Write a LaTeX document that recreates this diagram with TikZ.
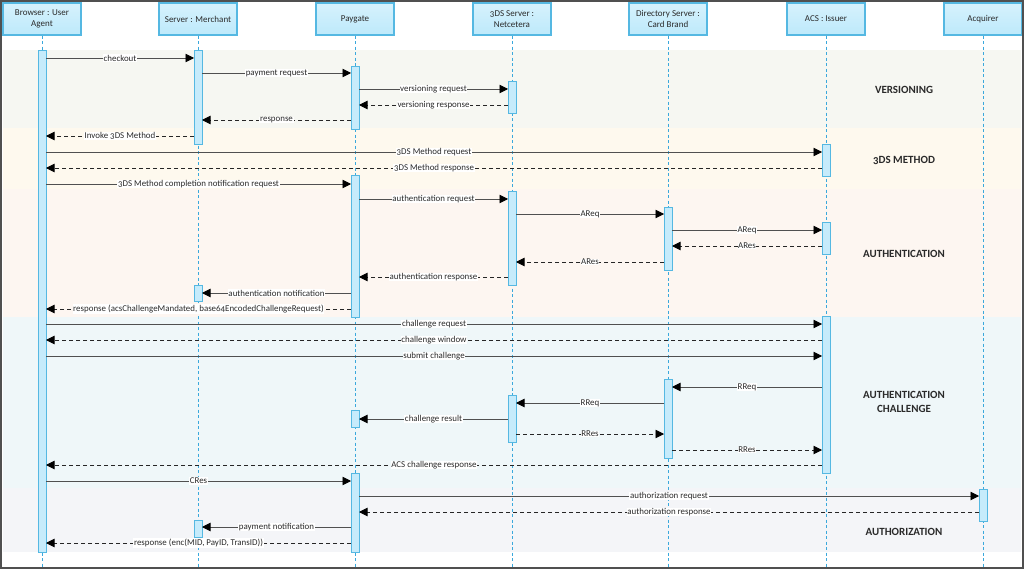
\documentclass[tikz,border=0pt]{standalone}
\usepackage{fontspec}
\setmainfont{Carlito}[Numbers=OldStyle]
\usetikzlibrary{arrows.meta}
\definecolor{bandV}{HTML}{F6F7F2}
\definecolor{bandM}{HTML}{FEF9EE}
\definecolor{bandA}{HTML}{FDF6F1}
\definecolor{bandC}{HTML}{EFF7F9}
\definecolor{bandZ}{HTML}{F4F5F8}
\definecolor{hdrtop}{HTML}{D6F2FD}
\definecolor{hdrbot}{HTML}{BDE9FB}
\definecolor{hdrline}{HTML}{55B8E2}
\definecolor{lifec}{HTML}{3AA8DC}
\definecolor{barfill}{HTML}{C6EBFB}
\definecolor{solidc}{HTML}{505050}
\definecolor{txt}{HTML}{2A2A2A}
\definecolor{framec}{HTML}{505050}
\tikzset{
  hdr/.style={draw=hdrline, top color=hdrtop, bottom color=hdrbot, line width=1.1pt, minimum width=78pt, minimum height=32pt,
    align=center, inner sep=1pt, text=txt, font=\fontsize{9}{10.5}\selectfont},
  life/.style={draw=lifec, line width=1pt, dash pattern=on 3pt off 2.5pt},
  actbar/.style={draw=hdrline, fill=barfill, line width=0.9pt},
  arrtip/.style={-{Triangle[length=8.5pt,width=8.5pt,color=black]}},
  req/.style={draw=solidc, line width=0.9pt, arrtip},
  rsp/.style={draw=black!85, line width=0.9pt, dash pattern=on 4pt off 3pt, arrtip},
  lbl/.style={fill=white, inner sep=0.6pt, text=txt, font=\fontsize{8.9}{9.5}\selectfont},
  sec/.style={text=txt, align=center, font=\fontsize{11}{13.5}\selectfont\bfseries}
}
\newcommand\msgr[5]{\draw[#1] ([xshift=4pt]#2.south |- 0,#4) -- node[lbl]{#5} ([xshift=-4pt]#3.south |- 0,#4);}
\newcommand\msgl[5]{\draw[#1] ([xshift=-4pt]#2.south |- 0,#4) -- node[lbl]{#5} ([xshift=4pt]#3.south |- 0,#4);}
\newcommand\actv[3]{\draw[actbar] ([xshift=-4pt]#1.south |- 0,#2) rectangle ([xshift=4pt]#1.south |- 0,#3);}
\begin{document}
\begin{tikzpicture}[x=1pt,y=-1pt]
\useasboundingbox (0,0) rectangle (1024,569);
% bands
\fill[bandV] (3,50) rectangle (1021,128);
\fill[bandM] (3,128) rectangle (1021,189);
\fill[bandA] (3,189) rectangle (1021,317);
\fill[bandC] (3,317) rectangle (1021,488);
\fill[bandZ] (3,488) rectangle (1021,552);
% headers
\node[hdr] (hB) at (42,19) {Browser : User\\Agent};
\node[hdr] (hM) at (198,19) {Server : Merchant};
\node[hdr] (hP) at (355,19) {Paygate};
\node[hdr] (hS) at (512,19) {3DS Server :\\Netcetera};
\node[hdr] (hD) at (668,19) {Directory Server :\\Card Brand};
\node[hdr] (hA) at (826,19) {ACS : Issuer};
\node[hdr] (hQ) at (983,19) {Acquirer};
% lifelines
\foreach \h in {hB,hM,hP,hS,hD,hA,hQ}{\draw[life] (\h.south) -- (\h.south |- 0,569);}
% section labels
\node[sec] (sV) at (904,90) {VERSIONING};
\node[sec] (sM) at (904,160) {3DS METHOD};
\node[sec] (sA) at (904,254) {AUTHENTICATION};
\node[sec] (sC) at (904,402) {AUTHENTICATION\\CHALLENGE};
\node[sec] (sZ) at (904,532) {AUTHORIZATION};
% activation bars
\actv{hB}{50}{552}
\actv{hM}{50}{144}
\actv{hM}{285}{301}
\actv{hM}{520}{537}
\actv{hP}{66}{129}
\actv{hP}{175}{317}
\actv{hP}{410}{427}
\actv{hP}{473}{552}
\actv{hS}{81}{113}
\actv{hS}{191}{285}
\actv{hS}{395}{442}
\actv{hD}{207}{270}
\actv{hD}{379}{458}
\actv{hA}{144}{176}
\actv{hA}{222}{254}
\actv{hA}{316}{473}
\actv{hQ}{489}{521}
% messages
\msgr{req}{hB}{hM}{58}{checkout}
\msgr{req}{hM}{hP}{73}{payment request}
\msgr{req}{hP}{hS}{89}{versioning request}
\msgl{rsp}{hS}{hP}{105}{versioning response}
\msgl{rsp}{hP}{hM}{120}{response}
\msgl{rsp}{hM}{hB}{136}{Invoke 3DS Method}
\msgr{req}{hB}{hA}{152}{3DS Method request}
\msgl{rsp}{hA}{hB}{168}{3DS Method response}
\msgr{req}{hB}{hP}{184}{3DS Method completion notification request}
\msgr{req}{hP}{hS}{199}{authentication request}
\msgr{req}{hS}{hD}{214}{AReq}
\msgr{req}{hD}{hA}{230}{AReq}
\msgl{rsp}{hA}{hD}{246}{ARes}
\msgl{rsp}{hD}{hS}{262}{ARes}
\msgl{rsp}{hS}{hP}{277}{authentication response}
\msgl{req}{hP}{hM}{293}{authentication notification}
\msgl{rsp}{hP}{hB}{309}{response (acsChallengeMandated, base64EncodedChallengeRequest)}
\msgr{req}{hB}{hA}{324}{challenge request}
\msgl{rsp}{hA}{hB}{340}{challenge window}
\msgr{req}{hB}{hA}{356}{submit challenge}
\msgl{req}{hA}{hD}{387}{RReq}
\msgl{req}{hD}{hS}{403}{RReq}
\msgl{req}{hS}{hP}{419}{challenge result}
\msgr{rsp}{hS}{hD}{434}{RRes}
\msgr{rsp}{hD}{hA}{450}{RRes}
\msgl{rsp}{hA}{hB}{465}{ACS challenge response}
\msgr{req}{hB}{hP}{481}{CRes}
\msgr{req}{hP}{hQ}{496}{authorization request}
\msgl{rsp}{hQ}{hP}{512}{authorization response}
\msgl{req}{hP}{hM}{527}{payment notification}
\msgl{rsp}{hP}{hB}{543}{response (enc(MID, PayID, TransID))}
% frame
\draw[framec, line width=2pt] (1,1) rectangle (1023,568);
\end{tikzpicture}
\end{document}
